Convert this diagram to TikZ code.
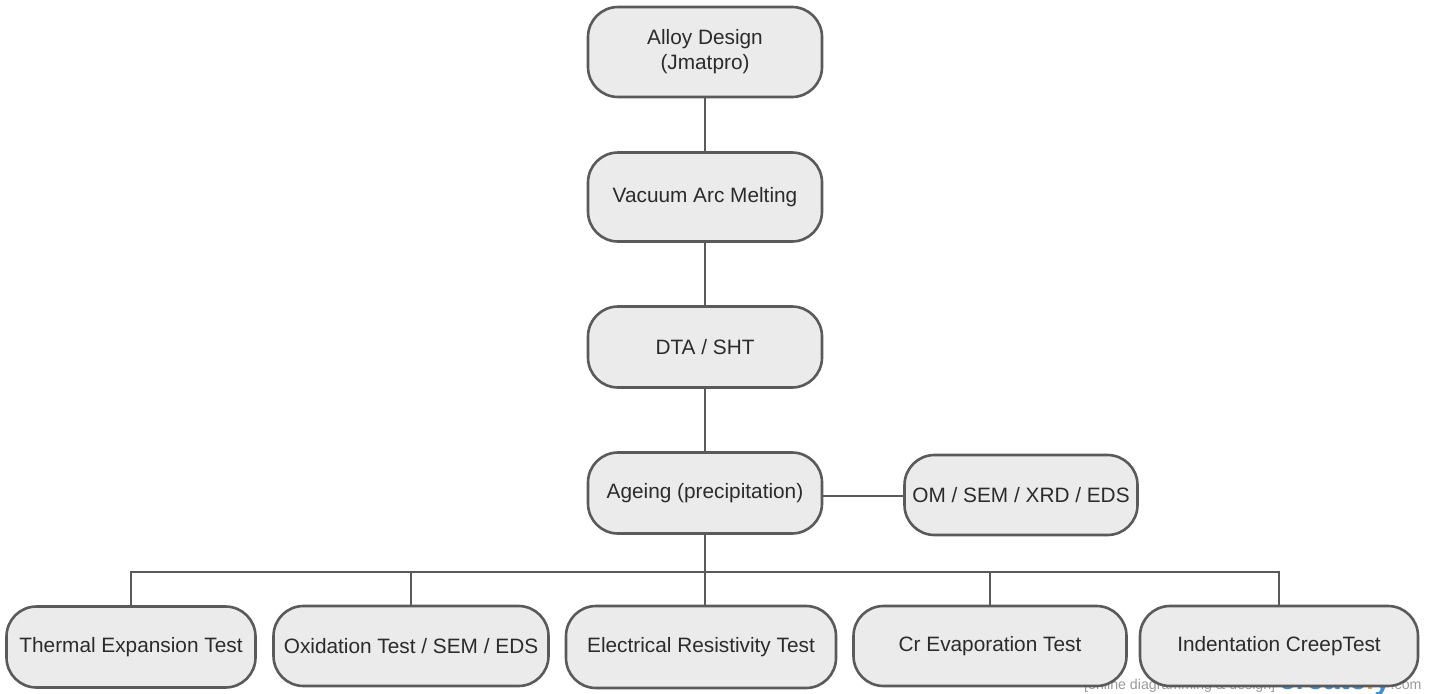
\documentclass[tikz,border=0pt]{standalone}
\usepackage{fontspec}
\setmainfont{Liberation Sans}
\usepackage{xcolor}
\usepackage{tikz}
\usetikzlibrary{positioning,calc}
\definecolor{BoxFill}{HTML}{EBEBEB}
\definecolor{BoxLine}{HTML}{5A5A5A}
\definecolor{TextDark}{HTML}{2B2B2B}
\definecolor{MarkBlue}{HTML}{3F8FD2}
\definecolor{MarkOrange}{HTML}{F2A23A}
\definecolor{MarkGray}{HTML}{9A9A9A}

\tikzset{
  stagebox/.style={draw=BoxLine, fill=BoxFill, line width=2.6pt,
    rounded corners=30pt, align=center, text=TextDark,
    inner sep=0pt, font=\fontsize{20.8}{25}\selectfont},
  link/.style={draw=BoxLine, line width=2.6pt}
}

\begin{document}
\begin{tikzpicture}[x=1pt, y=-1pt]
  \useasboundingbox (0,0) rectangle (1439,693);

  % watermark, partly hidden by the last box
  \node[anchor=base west, inner sep=0pt, text=MarkGray,
    font=\fontsize{14.2}{14}\selectfont] (mark) at (1084,689)
    {[online diagramming \& design]\ {\fontsize{29.5}{30}\selectfont\bfseries
     \textcolor{MarkBlue}{create}\textcolor{MarkOrange}{l}\textcolor{MarkBlue}{y}}.com};

  % main column
  \node[stagebox, minimum width=234pt, minimum height=90pt] (alloy) at (705,52)
    {Alloy Design\\(Jmatpro)};
  \node[stagebox, minimum width=234pt, minimum height=89pt] (vam) at (705,197)
    {Vacuum Arc Melting};
  \node[stagebox, minimum width=234pt, minimum height=81pt] (dta) at (705,347)
    {DTA / SHT};
  \node[stagebox, minimum width=234pt, minimum height=81pt] (ageing) at (705,493)
    {Ageing (precipitation)};
  \node[stagebox, minimum width=233pt, minimum height=80pt] (micro) at (1021,495)
    {OM / SEM / XRD / EDS};

  % tests
  \node[stagebox, minimum width=249pt, minimum height=81pt] (thermal) at (131,647)
    {Thermal Expansion Test};
  \node[stagebox, minimum width=275pt, minimum height=80pt] (oxid) at (411,646)
    {Oxidation Test / SEM / EDS};
  \node[stagebox, minimum width=270pt, minimum height=82pt] (resist) at (701,647)
    {Electrical Resistivity Test};
  \node[stagebox, minimum width=273pt, minimum height=80pt] (crevap) at (990,646)
    {Cr Evaporation Test};
  \node[stagebox, minimum width=278pt, minimum height=80pt] (creep) at (1279,646)
    {Indentation CreepTest};

  % connectors
  \draw[link] (alloy) -- (vam);
  \draw[link] (vam) -- (dta);
  \draw[link] (dta) -- (ageing);
  \draw[link] ([yshift=-3pt]ageing.east) -- ([yshift=-3pt]ageing.east -| micro.west);
  \coordinate (bus) at (705,572);
  \draw[link] (ageing.south) -- (bus);
  \draw[link] (thermal.north) |- (bus) -| (creep.north);
  \draw[link] (oxid.north) -- (oxid.north |- bus);
  \draw[link] (resist.north -| bus) -- (bus);
  \draw[link] (crevap.north) -- (crevap.north |- bus);
\end{tikzpicture}
\end{document}
